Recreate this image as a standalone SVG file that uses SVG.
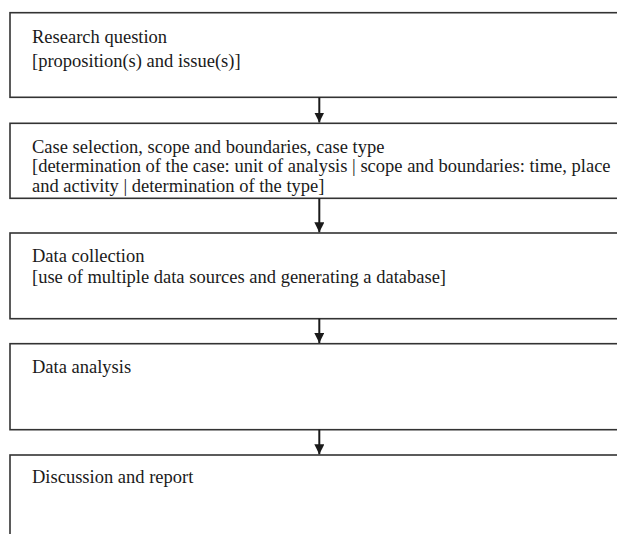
<svg xmlns="http://www.w3.org/2000/svg" width="617" height="534" viewBox="0 0 617 534">
<defs>
<style>
.box{fill:#fff;stroke:#333;stroke-width:1.6}
.t{font-family:"Liberation Serif","Times New Roman",serif;font-size:18.5px;fill:#1a1a1a}
.c{stroke:#1a1a1a;stroke-width:2;fill:none}
</style>
<marker id="ah" viewBox="0 0 10 10" refX="10" refY="5" markerWidth="10" markerHeight="10" markerUnits="userSpaceOnUse" orient="auto">
<path d="M0,0 L10,5 L0,10 Z" fill="#1a1a1a"/>
</marker>
</defs>
<rect width="617" height="534" fill="#fff"/>
<g id="n1">
<rect class="box" x="10" y="12.7" width="620" height="84.6"/>
<text class="t" x="32" y="43">Research question</text>
<text class="t" x="32" y="67">[proposition(s) and issue(s)]</text>
</g>
<g id="n2">
<rect class="box" x="10" y="123.3" width="620" height="75"/>
<text class="t" x="32" y="152.5">Case selection, scope and boundaries, case type</text>
<text class="t" x="32" y="172">[determination of the case: unit of analysis | scope and boundaries: time, place</text>
<text class="t" x="32" y="191.5">and activity | determination of the type]</text>
</g>
<g id="n3">
<rect class="box" x="10" y="233" width="620" height="85.7"/>
<text class="t" x="32" y="262">Data collection</text>
<text class="t" x="32" y="283">[use of multiple data sources and generating a database]</text>
</g>
<g id="n4">
<rect class="box" x="10" y="343.7" width="620" height="86"/>
<text class="t" x="32" y="373">Data analysis</text>
</g>
<g id="n5">
<rect class="box" x="10" y="455" width="620" height="100"/>
<text class="t" x="32" y="483">Discussion and report</text>
</g>
<g id="connectors">
<line class="c" x1="319.3" y1="97.3" x2="319.3" y2="122.5" marker-end="url(#ah)"/>
<line class="c" x1="319.3" y1="198.3" x2="319.3" y2="232.3" marker-end="url(#ah)"/>
<line class="c" x1="319.3" y1="318.7" x2="319.3" y2="343" marker-end="url(#ah)"/>
<line class="c" x1="319.3" y1="429.7" x2="319.3" y2="454.3" marker-end="url(#ah)"/>
</g>
</svg>
